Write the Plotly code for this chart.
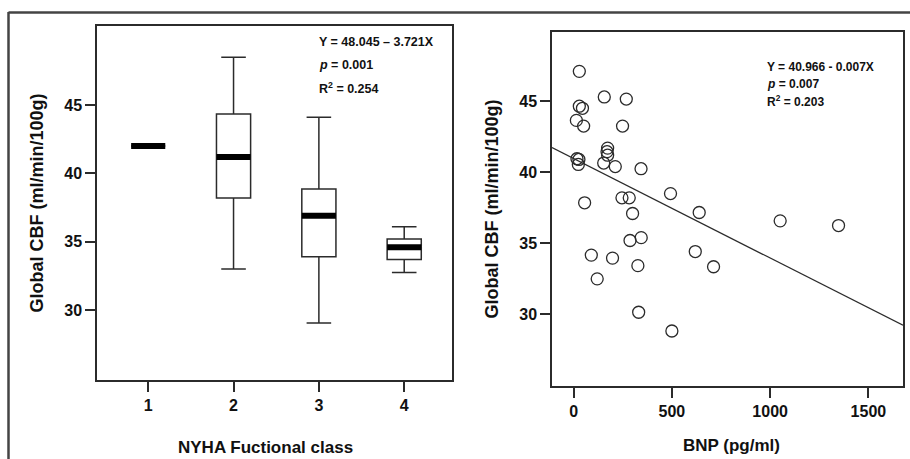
import plotly.graph_objects as go

# NYHA functional class vs global CBF (box summaries)
nyha_class = [1, 2, 3, 4]
cbf_lower = [42.0, 33.0, 29.05, 32.75]
cbf_q1 = [42.0, 38.2, 33.9, 33.7]
cbf_median = [42.0, 41.2, 36.9, 34.6]
cbf_q3 = [42.0, 44.35, 38.85, 35.2]
cbf_upper = [42.0, 48.5, 44.1, 36.1]

# BNP vs global CBF (individual patients)
bnp = [29, 156, 268, 29, 45, 14, 51, 249, 17, 27, 24, 173, 170, 173, 153, 212,
       343, 56, 246, 283, 300, 493, 639, 1051, 1348, 287, 344, 90, 198, 327,
       120, 331, 500, 619, 712]
cbf = [47.1, 45.3, 45.15, 44.65, 44.5, 43.65, 43.25, 43.25, 40.95, 40.9, 40.55,
       41.7, 41.45, 41.2, 40.65, 40.4, 40.25, 37.85, 38.2, 38.2, 37.1, 38.5,
       37.17, 36.58, 36.25, 35.2, 35.4, 34.17, 33.96, 33.43, 32.5, 30.15, 28.83,
       34.42, 33.35]

# regression of CBF on BNP
fit_intercept = 40.966
fit_slope = -0.007

INK = "#2b2b2b"
FONT = "Liberation Sans, Arial, sans-serif"
BOX_W = 0.4
bnp_range = [-110, 1676]

fig = go.Figure()

fig.add_trace(go.Box(
    x=nyha_class, q1=cbf_q1, median=cbf_median, q3=cbf_q3,
    lowerfence=cbf_lower, upperfence=cbf_upper,
    width=BOX_W, whiskerwidth=0.72,
    fillcolor="white", line=dict(color=INK, width=1.5),
    boxpoints=False, showlegend=False, hoverinfo="skip",
    xaxis="x", yaxis="y",
))

# thick median bars
mx, my = [], []
for c, m in zip(nyha_class, cbf_median):
    mx += [c - BOX_W / 2, c + BOX_W / 2, None]
    my += [m, m, None]
fig.add_trace(go.Scatter(
    x=mx, y=my, mode="lines", line=dict(color="black", width=6),
    showlegend=False, hoverinfo="skip", xaxis="x", yaxis="y",
))

fig.add_trace(go.Scatter(
    x=bnp, y=cbf, mode="markers",
    marker=dict(symbol="circle-open", size=12, color=INK, line=dict(width=1.3)),
    showlegend=False, xaxis="x2", yaxis="y2",
))

fit_y = [fit_intercept + fit_slope * v for v in bnp_range]
fig.add_trace(go.Scatter(
    x=bnp_range, y=fit_y, mode="lines", line=dict(color=INK, width=1.3),
    showlegend=False, hoverinfo="skip", xaxis="x2", yaxis="y2",
))

W, H = 910, 459


def px_x(v):
    return v / W


def px_y(v):
    return 1 - v / H


axis_common = dict(
    showgrid=False, zeroline=False, showline=True, mirror=True,
    linecolor=INK, linewidth=1.5, ticks="outside", ticklen=10,
    tickwidth=1.5, tickcolor=INK,
    tickfont=dict(family=FONT, size=16, color="#111", weight="bold"),
    automargin=False,
)
ytitle_font = dict(family=FONT, size=18, color="#111", weight="bold")
xtitle_font = dict(family=FONT, size=17, color="#111", weight="bold")

fig.update_layout(
    width=W, height=H, margin=dict(l=0, r=0, t=0, b=0),
    paper_bgcolor="white", plot_bgcolor="white",
    xaxis=dict(axis_common, domain=[px_x(97), px_x(452)], range=[0.4, 4.56],
               tickvals=nyha_class, anchor="y"),
    yaxis=dict(axis_common, domain=[px_y(380), px_y(26)], range=[24.88, 50.78],
               tickvals=[30, 35, 40, 45], anchor="x",
               title=dict(text="Global CBF (ml/min/100g)", font=ytitle_font, standoff=16)),
    xaxis2=dict(axis_common, domain=[px_x(552), px_x(903)], range=bnp_range,
                tickvals=[0, 500, 1000, 1500], anchor="y2"),
    yaxis2=dict(axis_common, domain=[px_y(386), px_y(32)], range=[24.96, 49.87],
                tickvals=[30, 35, 40, 45], anchor="x2",
                title=dict(text="Global CBF (ml/min/100g)", font=ytitle_font, standoff=16)),
)

# x-axis titles
fig.add_annotation(xref="paper", yref="paper", x=px_x(265), y=px_y(447),
                   xanchor="center", yanchor="middle", showarrow=False,
                   text="NYHA Fuctional class", font=xtitle_font)
fig.add_annotation(xref="paper", yref="paper", x=px_x(731), y=px_y(445),
                   xanchor="center", yanchor="middle", showarrow=False,
                   text="BNP (pg/ml)", font=xtitle_font)

# outer panel frame
frame = dict(color="#444", width=2.5)
fig.add_shape(type="line", xref="paper", yref="paper",
              x0=px_x(8.5), x1=px_x(8.5), y0=0, y1=px_y(12), line=frame)
fig.add_shape(type="line", xref="paper", yref="paper",
              x0=px_x(8.5), x1=1, y0=px_y(12.5), y1=px_y(12.5), line=frame)

stat_font_l = dict(family=FONT, size=12.5, color="#111", weight="bold")
stat_font_r = dict(family=FONT, size=12, color="#111", weight="bold")
left_stats = ["Y = 48.045 \u2013 3.721X", "<i>p</i> = 0.001", "R<sup>2</sup> = 0.254"]
for i, t in enumerate(left_stats):
    fig.add_annotation(xref="paper", yref="paper", x=px_x(317), y=px_y(42 + 23 * i),
                       xanchor="left", yanchor="middle", showarrow=False,
                       text=t, font=stat_font_l)
right_stats = ["Y = 40.966 - 0.007X", "<i>p</i> = 0.007", "R<sup>2</sup> = 0.203"]
for i, t in enumerate(right_stats):
    fig.add_annotation(xref="paper", yref="paper", x=px_x(765), y=px_y(67 + 17 * i),
                       xanchor="left", yanchor="middle", showarrow=False,
                       text=t, font=stat_font_r)

fig.write_html("out.html")
